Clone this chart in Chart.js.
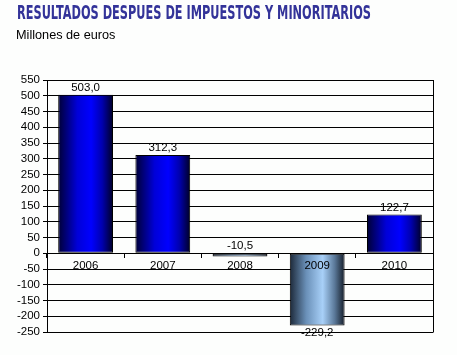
<!DOCTYPE html>
<html><head><meta charset="utf-8">
<script src="https://cdn.jsdelivr.net/npm/chart.js@4.4.0/dist/chart.umd.min.js"></script>
<style>
html,body{margin:0;padding:0;background:#fdfefd;width:457px;height:355px;overflow:hidden;position:relative}
#title{position:absolute;left:17px;top:1px;font-family:"Liberation Sans Narrow","DejaVu Sans Condensed","Liberation Sans",sans-serif;font-weight:bold;font-size:19px;color:#333399;white-space:nowrap;transform-origin:0 0;letter-spacing:0px}
#sub{position:absolute;left:16px;top:28px;font-family:"Liberation Sans",Arial,sans-serif;font-size:12.7px;color:#000}
#wrap{position:absolute;left:0;top:0;width:457px;height:355px}
</style></head><body>
<div id="wrap"><canvas id="c" width="457" height="355"></canvas></div>
<div id="title">RESULTADOS DESPUES DE IMPUESTOS Y MINORITARIOS</div>
<div id="sub">Millones de euros</div>
<script>
const categories = ["2006","2007","2008","2009","2010"];
const values = [503.0, 312.3, -10.5, -229.2, 122.7];
const yMin = -250, yMax = 550, yStep = 50;

// fit title width
(function(){const t=document.getElementById('title');const w=t.getBoundingClientRect().width;t.style.transform='scaleX('+(354/w)+')';})();

const BAR_PCT = 0.71;
function barFill(c){
  const chart=c.chart, xs=chart.scales.x;
  const v=values[c.dataIndex];
  if(!xs||!chart.chartArea) return v<0?'#8ab4e0':'#0000ff';
  const cx=xs.getPixelForValue(c.dataIndex);
  const w=(chart.chartArea.width/categories.length)*BAR_PCT;
  const g=chart.ctx.createLinearGradient(cx-w/2,0,cx+w/2,0);
  if(v>=0){
    g.addColorStop(0,'#000035');g.addColorStop(0.35,'#0000d8');g.addColorStop(0.6,'#0000ff');g.addColorStop(0.8,'#0000b0');g.addColorStop(1,'#000025');
  }else{
    g.addColorStop(0,'#1c2838');g.addColorStop(0.3,'#6a90b8');g.addColorStop(0.6,'#a8d0f8');g.addColorStop(0.82,'#5a7898');g.addColorStop(1,'#141c28');
  }
  return g;
}

const fmt=v=>v.toFixed(1).replace('.',',');

const extras={
  id:'extras',
  afterDatasetsDraw(chart){
    const ctx=chart.ctx, a=chart.chartArea, ys=chart.scales.y;
    ctx.save();
    ctx.strokeStyle='#000';ctx.lineWidth=1;
    ctx.beginPath();ctx.moveTo(Math.round(a.right)+0.5,a.top);ctx.lineTo(Math.round(a.right)+0.5,a.bottom+0.5);ctx.stroke();
    ctx.fillStyle='#000';ctx.font='11.5px "Liberation Sans", Arial, sans-serif';ctx.textAlign='center';
    const meta=chart.getDatasetMeta(0);
    const zero=ys.getPixelForValue(0);
    meta.data.forEach((bar,i)=>{
      const v=values[i];
      if(v>=0){ctx.textBaseline='bottom';ctx.fillText(fmt(v),bar.x,bar.y-1);}
      else if(Math.abs(bar.y-zero)<20){ctx.textBaseline='bottom';ctx.fillText(fmt(v),bar.x,zero-2);}
      else{ctx.textBaseline='top';ctx.fillText(fmt(v),bar.x,bar.y+2);}
    });
    ctx.restore();
  }
};

new Chart(document.getElementById('c'),{
  type:'bar',
  data:{labels:categories,datasets:[{data:values,backgroundColor:barFill,borderColor:'#000',borderWidth:1,borderSkipped:false,barPercentage:BAR_PCT,categoryPercentage:1}]},
  options:{
    responsive:false,animation:false,
    layout:{padding:{left:0,top:80,right:24,bottom:23}},
    plugins:{legend:{display:false},tooltip:{enabled:false}},
    scales:{
      x:{position:{y:0},offset:true,
        grid:{display:true,drawOnChartArea:false,offset:true,color:'#000',tickLength:4,tickWidth:1},
        border:{display:true,color:'#000'},
        ticks:{z:1,color:'#000',font:{family:'"Liberation Sans", Arial, sans-serif',size:11.5},padding:2,maxRotation:0}},
      y:{min:yMin,max:yMax,
        afterFit(s){s.width=47;},
        grid:{color:'#000',lineWidth:1,tickLength:4,drawTicks:true},
        border:{display:true,color:'#000'},
        ticks:{stepSize:yStep,color:'#000',font:{family:'"Liberation Sans", Arial, sans-serif',size:11.5},padding:3,autoSkip:false}}
    }
  },
  plugins:[extras]
});
</script>
</body></html>
